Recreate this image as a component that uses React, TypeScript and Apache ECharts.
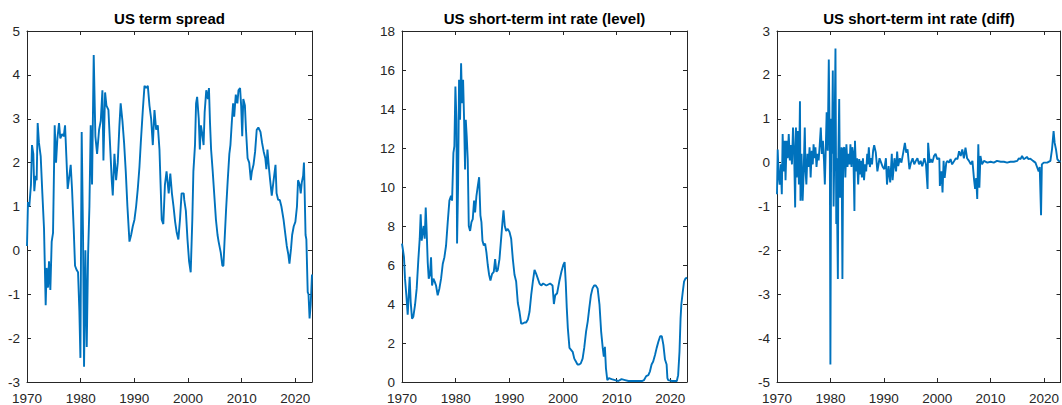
import React, { useEffect, useRef } from "react";
import * as echarts from "echarts";

// US term spread (percentage points), [year, value]
const termSpread: [number, number][] = [
  [1970.0, 0.1], [1970.18, 1.1], [1970.43, 1.0], [1970.74, 1.5], [1970.93, 2.4], [1971.18, 2.2],
  [1971.36, 1.35], [1971.61, 1.7], [1971.8, 1.6], [1971.99, 2.9], [1972.23, 2.45], [1972.55, 2.15],
  [1972.86, 1.3], [1973.17, 0.5], [1973.48, -1.25], [1973.66, -0.4], [1973.91, -0.85], [1974.1, -0.25],
  [1974.35, -0.9], [1974.6, 0.2], [1974.85, 0.4], [1975.16, 2.85], [1975.41, 2.0], [1975.66, 2.55],
  [1975.97, 2.9], [1976.21, 2.55], [1976.53, 2.65], [1976.84, 2.6], [1977.09, 2.85], [1977.33, 2.15],
  [1977.58, 1.4], [1977.89, 1.7], [1978.14, 1.95], [1978.39, 1.4], [1978.7, 0.5], [1978.95, -0.35],
  [1979.26, -0.45], [1979.51, -0.5], [1979.76, -1.4], [1979.95, -2.45], [1980.19, 2.7], [1980.44, 0.35],
  [1980.63, -2.65], [1980.88, 0.0], [1981.13, -2.2], [1981.38, -0.1], [1981.63, 1.0], [1981.87, 2.85],
  [1982.12, 1.5], [1982.43, 4.45], [1982.74, 2.6], [1983.06, 2.2], [1983.43, 2.75], [1983.74, 2.95],
  [1984.05, 3.65], [1984.24, 2.05], [1984.55, 3.6], [1984.8, 3.3], [1985.17, 3.2], [1985.48, 2.4],
  [1985.79, 1.6], [1985.98, 1.25], [1986.29, 2.2], [1986.6, 1.6], [1986.91, 2.0], [1987.22, 2.85],
  [1987.45, 3.35], [1987.78, 2.95], [1988.09, 2.45], [1988.4, 1.8], [1988.71, 1.0], [1989.09, 0.2],
  [1989.4, 0.35], [1989.71, 0.55], [1990.02, 0.7], [1990.33, 1.0], [1990.64, 1.4], [1990.95, 1.9],
  [1991.2, 2.45], [1991.58, 3.2], [1991.89, 3.75], [1992.2, 3.7], [1992.51, 3.75], [1992.82, 3.3],
  [1993.13, 3.0], [1993.44, 2.4], [1993.75, 3.2], [1994.06, 2.75], [1994.37, 2.85], [1994.68, 2.3],
  [1995.1, 0.7], [1995.4, 0.6], [1995.7, 1.5], [1996.0, 1.8], [1996.4, 1.3], [1996.7, 1.75],
  [1997.0, 1.3], [1997.3, 1.0], [1997.6, 0.65], [1997.9, 0.4], [1998.2, 0.25], [1998.5, 0.7],
  [1998.8, 1.3], [1999.2, 1.3], [1999.3, 1.15], [1999.6, 0.9], [1999.9, 0.25], [2000.2, -0.25],
  [2000.5, -0.5], [2000.8, 0.7], [2001.0, 1.8], [2001.3, 2.4], [2001.5, 3.35], [2001.7, 3.5],
  [2002.0, 3.0], [2002.2, 2.3], [2002.4, 2.85], [2002.6, 2.7], [2002.9, 2.4], [2003.1, 3.15],
  [2003.4, 3.65], [2003.7, 3.45], [2003.9, 3.7], [2004.1, 2.9], [2004.3, 2.3], [2004.6, 1.8],
  [2004.9, 1.25], [2005.2, 0.7], [2005.5, 0.35], [2005.7, 0.2], [2006.1, -0.05], [2006.4, -0.35],
  [2006.6, -0.35], [2006.8, 0.2], [2007.1, 0.95], [2007.4, 1.6], [2007.7, 2.2], [2007.9, 2.4],
  [2008.2, 3.0], [2008.4, 3.35], [2008.6, 3.05], [2008.9, 3.55], [2009.2, 3.35], [2009.4, 3.65],
  [2009.7, 3.7], [2009.9, 3.3], [2010.1, 2.6], [2010.3, 3.45], [2010.6, 3.3], [2010.8, 2.75],
  [2011.1, 2.1], [2011.4, 2.0], [2011.7, 1.6], [2011.9, 1.8], [2012.2, 1.95], [2012.5, 2.25],
  [2012.8, 2.75], [2013.1, 2.8], [2013.5, 2.7], [2013.8, 2.45], [2014.1, 2.25], [2014.4, 2.1],
  [2014.6, 1.85], [2014.8, 2.3], [2015.1, 1.85], [2015.3, 1.6], [2015.6, 1.25], [2015.9, 1.55],
  [2016.3, 1.95], [2016.5, 1.3], [2016.8, 1.15], [2017.1, 1.15], [2017.4, 1.0], [2017.8, 0.7],
  [2018.1, 0.4], [2018.4, 0.1], [2018.7, -0.1], [2018.9, -0.3], [2019.2, 0.05], [2019.4, 0.35],
  [2019.7, 0.55], [2020.0, 0.65], [2020.3, 1.0], [2020.5, 1.6], [2020.8, 1.5], [2021.0, 1.3],
  [2021.2, 1.55], [2021.45, 1.7], [2021.6, 2.0], [2021.7, 1.5], [2021.9, 0.35], [2022.05, 0.25],
  [2022.3, -0.95], [2022.45, -1.0], [2022.65, -1.55], [2022.85, -1.25], [2023.1, -0.55],
];

// US short-term interest rate, level (%), [year, value]
const shortRate: [number, number][] = [
  [1970.0, 7.1], [1970.19, 6.75], [1970.37, 6.4], [1970.56, 5.3], [1970.81, 4.45], [1971.06, 3.45],
  [1971.43, 5.4], [1971.62, 4.1], [1971.87, 3.25], [1972.11, 3.35], [1972.43, 3.95], [1972.74, 4.8],
  [1973.05, 6.3], [1973.3, 7.35], [1973.48, 8.6], [1973.67, 7.25], [1973.86, 7.7], [1974.04, 8.0],
  [1974.23, 7.35], [1974.42, 8.95], [1974.6, 7.7], [1974.79, 6.15], [1974.98, 5.3], [1975.22, 5.5],
  [1975.41, 6.4], [1975.6, 4.95], [1975.85, 5.3], [1976.09, 5.15], [1976.34, 4.95], [1976.65, 4.45],
  [1976.97, 4.8], [1977.28, 5.3], [1977.59, 6.05], [1977.9, 6.4], [1978.21, 7.0], [1978.52, 8.2],
  [1978.83, 9.3], [1979.14, 9.55], [1979.33, 9.3], [1979.58, 11.75], [1979.76, 12.1], [1979.95, 15.15],
  [1980.14, 13.45], [1980.26, 7.1], [1980.45, 10.05], [1980.63, 15.5], [1980.82, 13.45], [1981.01, 16.35],
  [1981.19, 14.3], [1981.38, 15.5], [1981.57, 13.45], [1981.75, 10.9], [1981.88, 13.45], [1982.06, 12.6],
  [1982.25, 11.4], [1982.44, 8.0], [1982.69, 7.75], [1982.94, 8.2], [1983.18, 8.35], [1983.43, 9.3],
  [1983.62, 8.7], [1983.87, 9.55], [1984.12, 10.05], [1984.37, 10.5], [1984.61, 8.55], [1984.8, 8.2],
  [1984.99, 7.25], [1985.24, 7.0], [1985.49, 7.1], [1985.73, 6.65], [1985.98, 6.0], [1986.23, 5.5],
  [1986.48, 5.2], [1986.79, 5.55], [1987.1, 5.65], [1987.35, 6.3], [1987.6, 5.65], [1987.85, 5.75],
  [1988.16, 6.3], [1988.47, 7.35], [1988.72, 8.2], [1988.91, 8.8], [1989.15, 8.0], [1989.4, 7.75],
  [1989.71, 7.85], [1990.02, 7.7], [1990.34, 7.35], [1990.65, 6.3], [1990.96, 5.5], [1991.27, 5.15],
  [1991.58, 4.05], [1991.89, 3.6], [1992.2, 3.0], [1992.51, 3.0], [1992.82, 3.05], [1993.13, 3.05],
  [1993.45, 3.2], [1993.76, 3.6], [1994.07, 4.45], [1994.38, 5.15], [1994.69, 5.75], [1995.0, 5.55],
  [1995.31, 5.3], [1995.62, 5.05], [1995.93, 4.95], [1996.3, 5.05], [1996.9, 4.95], [1997.6, 5.05],
  [1998.05, 4.95], [1998.3, 4.0], [1998.55, 4.45], [1998.9, 4.55], [1999.3, 5.15], [1999.7, 5.65],
  [2000.05, 6.0], [2000.3, 6.15], [2000.5, 5.15], [2000.7, 3.8], [2000.9, 2.75], [2001.2, 1.75],
  [2001.5, 1.65], [2001.8, 1.55], [2002.1, 1.2], [2002.4, 1.05], [2002.7, 0.9], [2003.0, 0.9],
  [2003.3, 0.95], [2003.65, 1.2], [2003.95, 1.75], [2004.3, 2.6], [2004.6, 3.1], [2004.9, 3.8],
  [2005.2, 4.45], [2005.5, 4.8], [2005.8, 4.95], [2006.1, 4.95], [2006.45, 4.8], [2006.8, 3.95],
  [2007.1, 2.6], [2007.4, 1.75], [2007.6, 1.3], [2007.8, 1.8], [2008.0, 0.7], [2008.25, 0.1],
  [2008.55, 0.2], [2009.05, 0.15], [2009.7, 0.1], [2010.3, 0.05], [2010.9, 0.15], [2011.55, 0.1],
  [2012.2, 0.05], [2012.8, 0.05], [2013.4, 0.05], [2014.0, 0.05], [2014.7, 0.05], [2015.1, 0.1],
  [2015.5, 0.3], [2015.9, 0.35], [2016.2, 0.55], [2016.5, 0.9], [2016.8, 1.05], [2017.15, 1.4],
  [2017.45, 1.75], [2017.75, 2.05], [2018.1, 2.35], [2018.4, 2.35], [2018.7, 1.9], [2019.0, 1.15],
  [2019.3, 0.9], [2019.45, 0.2], [2019.6, 0.1], [2020.3, 0.05], [2020.9, 0.05], [2021.2, 0.05],
  [2021.45, 0.35], [2021.7, 1.55], [2021.9, 3.25], [2022.05, 4.0], [2022.3, 4.6], [2022.55, 5.15],
  [2022.8, 5.3], [2023.1, 5.35],
];

// US short-term interest rate, first difference (pp), [year, value]
const rateDiff: [number, number][] = [
  [1970.0, -0.72], [1970.13, 0.3], [1970.3, -0.27], [1970.5, -0.5], [1970.7, -0.04], [1970.9, -0.72],
  [1971.06, 0.65], [1971.25, -0.2], [1971.44, 0.5], [1971.6, -0.4], [1971.8, 0.5], [1972.0, 0.1],
  [1972.2, 0.65], [1972.4, 0.05], [1972.55, 0.4], [1972.8, -0.04], [1973.0, 0.8], [1973.2, 0.27],
  [1973.4, -1.02], [1973.55, 0.8], [1973.7, -0.34], [1973.9, 0.72], [1974.1, -0.5], [1974.3, 1.4],
  [1974.4, -0.87], [1974.6, 0.2], [1974.8, -0.87], [1974.98, -0.27], [1975.2, 0.8], [1975.35, -0.2],
  [1975.5, -0.5], [1975.7, 0.2], [1975.9, -0.1], [1976.1, 0.35], [1976.3, -0.34], [1976.5, 0.27],
  [1976.7, -0.04], [1976.85, 0.42], [1977.0, 0.1], [1977.2, 0.35], [1977.4, -0.1], [1977.6, 0.2],
  [1977.8, 0.05], [1978.0, 0.4], [1978.2, 0.8], [1978.4, 0.2], [1978.6, 0.5], [1978.8, 0.05],
  [1978.96, -0.5], [1979.15, 0.4], [1979.3, 1.15], [1979.5, 0.27], [1979.7, 2.35], [1979.9, 0.1],
  [1980.0, -4.6], [1980.15, 1.0], [1980.3, 0.2], [1980.45, 2.1], [1980.6, -1.0], [1980.75, 0.3],
  [1980.95, 2.6], [1981.1, -1.4], [1981.2, 0.1], [1981.3, -1.55], [1981.4, -2.65], [1981.5, 0.2],
  [1981.65, 1.45], [1981.8, -0.8], [1981.95, -0.4], [1982.1, 0.35], [1982.25, -2.65], [1982.4, 0.3],
  [1982.6, 0.35], [1982.8, -0.34], [1983.0, 0.42], [1983.2, -0.1], [1983.4, 0.2], [1983.6, -0.04],
  [1983.75, 0.42], [1983.95, -0.1], [1984.1, 0.35], [1984.3, 0.2], [1984.5, -1.1], [1984.6, 0.5],
  [1984.8, -0.2], [1985.0, 0.1], [1985.2, -0.5], [1985.4, 0.08], [1985.55, -0.27], [1985.7, 0.04],
  [1985.9, -0.34], [1986.1, 0.1], [1986.3, -0.4], [1986.5, -0.04], [1986.7, -0.2], [1986.9, 0.2],
  [1987.0, -0.04], [1987.2, 0.35], [1987.4, -0.1], [1987.6, 0.1], [1987.8, -0.04], [1988.0, 0.27],
  [1988.2, 0.4], [1988.5, 0.23], [1988.8, -0.2], [1989.2, 0.1], [1989.5, 0.0], [1989.8, -0.1],
  [1990.1, -0.15], [1990.4, 0.1], [1990.6, -0.5], [1990.9, -0.08], [1991.2, -0.45], [1991.5, 0.2],
  [1991.65, -0.4], [1992.0, 0.1], [1992.3, -0.2], [1992.5, 0.25], [1992.7, -0.08], [1993.0, 0.1],
  [1993.3, 0.0], [1993.6, 0.2], [1993.95, 0.45], [1994.2, 0.23], [1994.45, 0.3], [1994.8, -0.15],
  [1995.1, 0.0], [1995.4, 0.1], [1995.7, -0.04], [1996.0, 0.04], [1996.3, 0.1], [1996.6, -0.04],
  [1996.9, 0.04], [1997.2, -0.08], [1997.6, 0.1], [1997.9, -0.04], [1998.2, -0.6], [1998.3, 0.45],
  [1998.6, 0.0], [1998.8, 0.08], [1999.1, 0.0], [1999.4, 0.15], [1999.7, 0.2], [2000.0, 0.08],
  [2000.4, 0.1], [2000.5, -0.53], [2000.8, -0.2], [2001.0, -0.68], [2001.2, 0.04], [2001.4, -0.35],
  [2001.7, 0.0], [2001.9, 0.04], [2002.2, 0.0], [2002.5, 0.08], [2002.8, -0.04], [2003.2, 0.04],
  [2003.5, 0.1], [2003.8, 0.08], [2004.1, 0.26], [2004.4, 0.15], [2004.7, 0.3], [2005.0, 0.1],
  [2005.3, 0.34], [2005.6, 0.1], [2005.95, 0.04], [2006.3, -0.04], [2006.6, 0.04], [2006.9, -0.38],
  [2007.1, -0.6], [2007.3, -0.35], [2007.5, -0.83], [2007.7, 0.42], [2007.9, -0.57], [2008.1, 0.15],
  [2008.4, -0.04], [2008.75, 0.04], [2009.4, 0.0], [2010.0, 0.02], [2010.6, 0.0], [2011.2, 0.04],
  [2011.9, 0.02], [2012.5, 0.02], [2013.1, 0.0], [2013.7, 0.02], [2014.35, 0.02], [2015.0, 0.04],
  [2015.3, 0.1], [2015.6, 0.08], [2015.9, 0.15], [2016.2, 0.08], [2016.5, 0.1], [2016.8, 0.13],
  [2017.1, 0.08], [2017.45, 0.09], [2017.95, 0.04], [2018.4, 0.0], [2018.7, -0.1], [2019.0, -0.2],
  [2019.2, -0.1], [2019.45, -1.2], [2019.6, -0.04], [2019.95, 0.0], [2020.6, 0.0], [2021.2, 0.04],
  [2021.5, 0.3], [2021.8, 0.72], [2022.0, 0.45], [2022.25, 0.3], [2022.5, 0.08], [2022.75, 0.04],
  [2023.1, 0.02],
];

const panelTitles = [
  "US term spread",
  "US short-term int rate (level)",
  "US short-term int rate (diff)",
];

// y-axis ranges: [min, max, step]
const yRanges: [number, number, number][] = [
  [-3, 5, 1],
  [0, 18, 2],
  [-5, 3, 1],
];

const xMin = 1970;
const xMax = 2023.1;
const xStep = 10;

const FONT = '"Liberation Sans", Arial, Helvetica, sans-serif';
const AXIS_COLOR = "#262626";
const LINE_COLOR = "#0072BD";

const PANEL_LEFT = [27, 402, 777];
const PANEL_WIDTH = [285, 285, 284];
const PANEL_TOP = 31;
const PANEL_HEIGHT = 353;

export default function App() {
  const ref = useRef<HTMLDivElement>(null);

  useEffect(() => {
    if (!ref.current) return;
    const chart = echarts.init(ref.current, undefined, { renderer: "svg" });
    const seriesData = [termSpread, shortRate, rateDiff];

    const grids = PANEL_LEFT.map((left, i) => ({
      left,
      top: PANEL_TOP,
      width: PANEL_WIDTH[i],
      height: PANEL_HEIGHT,
      containLabel: false,
    }));

    const tick = { show: true, inside: true, length: 4, lineStyle: { color: AXIS_COLOR, width: 1 } };
    const line = { show: true, onZero: false, lineStyle: { color: AXIS_COLOR, width: 1 } };
    const labelFont = { color: AXIS_COLOR, fontFamily: FONT, fontSize: 13.5 };

    const xAxes: any[] = [];
    const yAxes: any[] = [];
    PANEL_LEFT.forEach((_, i) => {
      const base = { type: "value", gridIndex: i, min: xMin, max: xMax, interval: xStep, splitLine: { show: false }, axisLine: line, axisTick: tick };
      xAxes.push({
        ...base,
        position: "bottom",
        axisLabel: {
          show: true,
          margin: 9,
          ...labelFont,
          showMaxLabel: false,
          formatter: (v: number) => (v % 10 === 0 ? String(v) : ""),
        },
      });
      xAxes.push({ ...base, position: "top", axisLabel: { show: false } });

      const [ymin, ymax, ystep] = yRanges[i];
      const ybase = { type: "value", gridIndex: i, min: ymin, max: ymax, interval: ystep, splitLine: { show: false }, axisLine: line, axisTick: tick };
      yAxes.push({
        ...ybase,
        position: "left",
        axisLabel: { show: true, margin: 7, ...labelFont },
      });
      yAxes.push({ ...ybase, position: "right", axisLabel: { show: false } });
    });

    chart.setOption({
      animation: false,
      backgroundColor: "#ffffff",
      title: panelTitles.map((text, i) => ({
        text,
        left: PANEL_LEFT[i] + PANEL_WIDTH[i] / 2,
        top: 11,
        textAlign: "center",
        padding: 0,
        textStyle: { fontFamily: FONT, fontSize: 15, fontWeight: "bold", color: "#000000" },
      })),
      grid: grids,
      xAxis: xAxes,
      yAxis: yAxes,
      series: seriesData.map((data, i) => ({
        type: "line",
        data,
        xAxisIndex: i * 2,
        yAxisIndex: i * 2,
        showSymbol: false,
        symbol: "none",
        lineStyle: { color: LINE_COLOR, width: 1.9 },
        silent: true,
      })),
    });

    return () => chart.dispose();
  }, []);

  return (
    <div
      ref={ref}
      style={{ position: "absolute", left: 0, top: 0, width: 1062, height: 405 }}
    />
  );
}
